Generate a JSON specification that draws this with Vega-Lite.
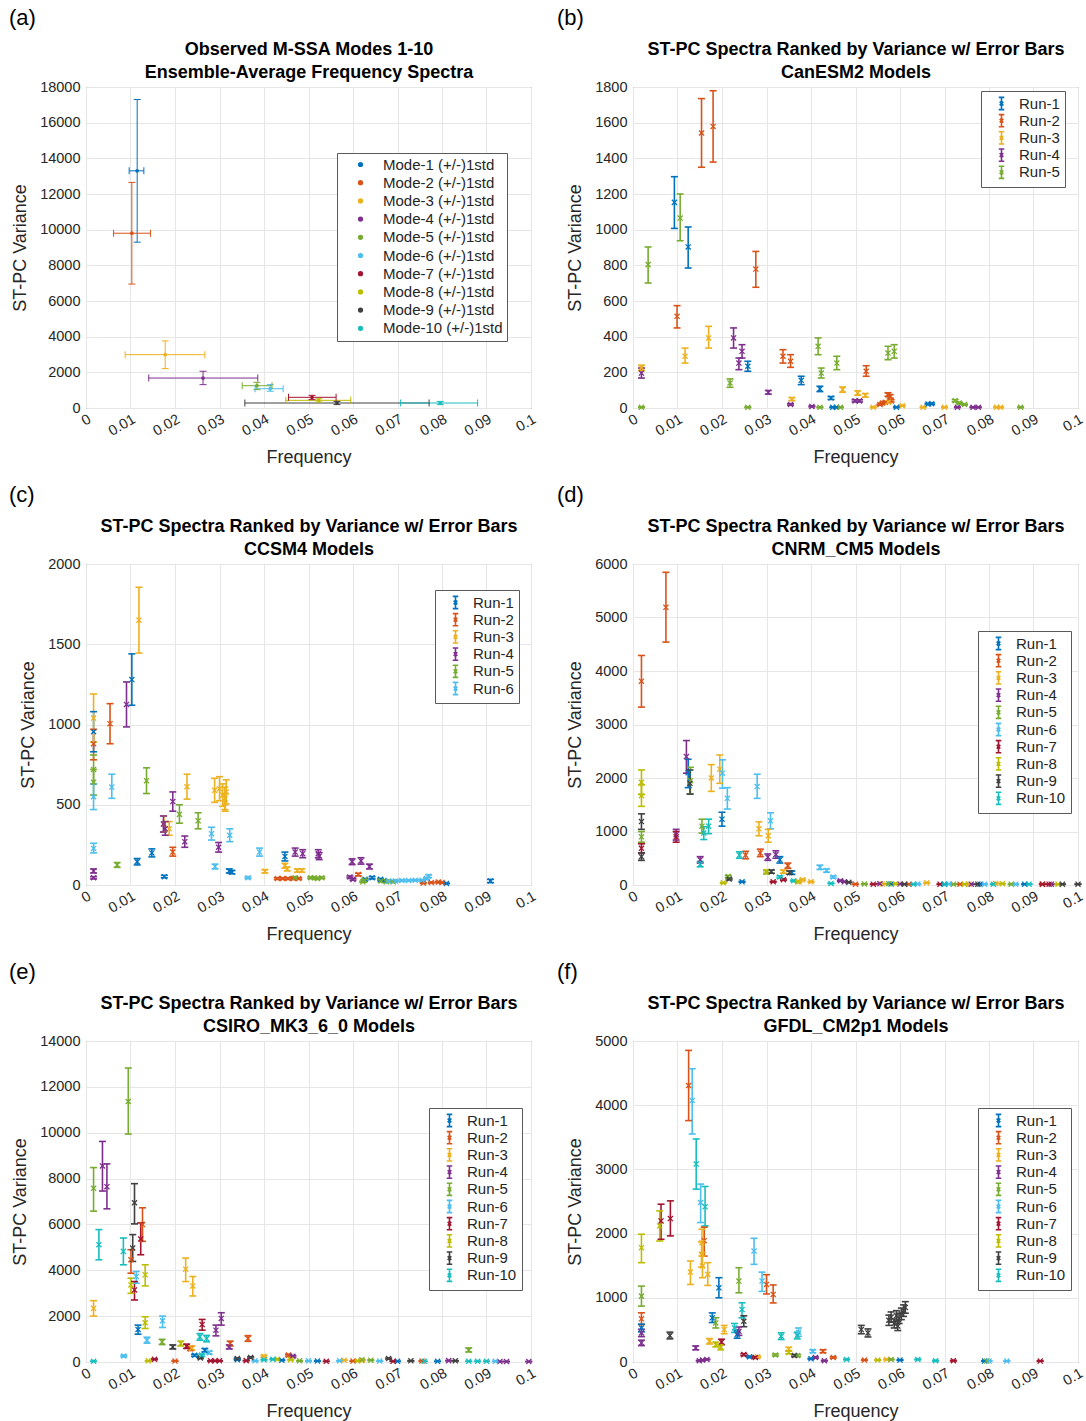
{
  "$schema": "https://vega.github.io/schema/vega-lite/v6.json",
  "padding": {"left": 8, "top": 6, "right": 0, "bottom": 0},
  "bounds": "flush",
  "columns": 2,
  "spacing": {"row": 156, "column": 102},
  "resolve": {"scale": {"color": "independent"}, "legend": {"color": "independent"}},
  "config": {
    "font": "Liberation Sans",
    "view": {"stroke": "#7a7a7a", "strokeWidth": 1},
    "axis": {"grid": true, "gridColor": "#e6e6e6", "domain": false, "ticks": false, "labelFontSize": 14.5, "labelColor": "#262626", "titleFontSize": 18, "titleFontWeight": "normal", "titleColor": "#262626", "labelOverlap": false, "labelFlush": false},
    "legend": {"orient": "none", "title": null, "fillColor": "white", "strokeColor": "#5a5a5a", "padding": 5, "labelFontSize": 15, "labelColor": "#262626", "rowPadding": -1.8, "symbolOffset": 8, "labelOffset": 10},
    "title": {"anchor": "start", "frame": "group", "fontSize": 22, "fontWeight": "normal", "color": "#000000", "offset": 10},
    "tick": {"opacity": 1},
    "point": {"opacity": 1}
  },
  "datasets": {
    "a": [
      {"r": "Mode-1 (+/-)1std", "f": 0.0115, "v": 13300, "lo": 9300, "hi": 17300, "flo": 0.0097, "fhi": 0.0130},
      {"r": "Mode-2 (+/-)1std", "f": 0.0103, "v": 9800, "lo": 6950, "hi": 12650, "flo": 0.0062, "fhi": 0.0145},
      {"r": "Mode-3 (+/-)1std", "f": 0.0178, "v": 2990, "lo": 2210, "hi": 3760, "flo": 0.0088, "fhi": 0.0267},
      {"r": "Mode-4 (+/-)1std", "f": 0.0263, "v": 1680, "lo": 1310, "hi": 2060, "flo": 0.0141, "fhi": 0.0386},
      {"r": "Mode-5 (+/-)1std", "f": 0.0384, "v": 1250, "lo": 1030, "hi": 1440, "flo": 0.0351, "fhi": 0.0418},
      {"r": "Mode-6 (+/-)1std", "f": 0.0414, "v": 1080, "lo": 940, "hi": 1310, "flo": 0.0380, "fhi": 0.0443},
      {"r": "Mode-7 (+/-)1std", "f": 0.0508, "v": 600, "lo": 470, "hi": 710, "flo": 0.0455, "fhi": 0.0562},
      {"r": "Mode-8 (+/-)1std", "f": 0.0523, "v": 430, "lo": 340, "hi": 520, "flo": 0.0449, "fhi": 0.0595},
      {"r": "Mode-9 (+/-)1std", "f": 0.0564, "v": 280, "lo": 190, "hi": 370, "flo": 0.0357, "fhi": 0.0771},
      {"r": "Mode-10 (+/-)1std", "f": 0.0796, "v": 280, "lo": 190, "hi": 370, "flo": 0.0707, "fhi": 0.0880}
    ],
    "b": [
      {"r": "Run-1", "f": 0.0093, "v": 1153, "lo": 1007, "hi": 1297},
      {"r": "Run-1", "f": 0.0124, "v": 903, "lo": 785, "hi": 1015},
      {"r": "Run-1", "f": 0.0258, "v": 234, "lo": 206, "hi": 262},
      {"r": "Run-1", "f": 0.0378, "v": 155, "lo": 131, "hi": 178},
      {"r": "Run-1", "f": 0.0420, "v": 107, "lo": 92, "hi": 122},
      {"r": "Run-1", "f": 0.0445, "v": 56, "lo": 48, "hi": 64},
      {"r": "Run-1", "f": 0.0449, "v": 4, "lo": 2, "hi": 6},
      {"r": "Run-1", "f": 0.0457, "v": 4, "lo": 2, "hi": 6},
      {"r": "Run-1", "f": 0.0592, "v": 4, "lo": 2, "hi": 6},
      {"r": "Run-1", "f": 0.0663, "v": 22, "lo": 18, "hi": 26},
      {"r": "Run-1", "f": 0.0671, "v": 24, "lo": 20, "hi": 28},
      {"r": "Run-2", "f": 0.0154, "v": 1542, "lo": 1350, "hi": 1735},
      {"r": "Run-2", "f": 0.0180, "v": 1579, "lo": 1379, "hi": 1779},
      {"r": "Run-2", "f": 0.0276, "v": 779, "lo": 677, "hi": 878},
      {"r": "Run-2", "f": 0.0099, "v": 514, "lo": 449, "hi": 574},
      {"r": "Run-2", "f": 0.0337, "v": 290, "lo": 252, "hi": 327},
      {"r": "Run-2", "f": 0.0354, "v": 262, "lo": 228, "hi": 299},
      {"r": "Run-2", "f": 0.0524, "v": 206, "lo": 178, "hi": 237},
      {"r": "Run-2", "f": 0.0573, "v": 75, "lo": 65, "hi": 85},
      {"r": "Run-2", "f": 0.0578, "v": 65, "lo": 56, "hi": 74},
      {"r": "Run-2", "f": 0.0555, "v": 19, "lo": 16, "hi": 22},
      {"r": "Run-2", "f": 0.0561, "v": 28, "lo": 24, "hi": 32},
      {"r": "Run-2", "f": 0.0567, "v": 32, "lo": 27, "hi": 37},
      {"r": "Run-2", "f": 0.0580, "v": 40, "lo": 34, "hi": 46},
      {"r": "Run-3", "f": 0.0019, "v": 225, "lo": 210, "hi": 240},
      {"r": "Run-3", "f": 0.0117, "v": 290, "lo": 252, "hi": 336},
      {"r": "Run-3", "f": 0.0170, "v": 393, "lo": 336, "hi": 458},
      {"r": "Run-3", "f": 0.0357, "v": 50, "lo": 42, "hi": 58},
      {"r": "Run-3", "f": 0.0471, "v": 103, "lo": 88, "hi": 118},
      {"r": "Run-3", "f": 0.0505, "v": 84, "lo": 72, "hi": 96},
      {"r": "Run-3", "f": 0.0522, "v": 71, "lo": 61, "hi": 81},
      {"r": "Run-3", "f": 0.0540, "v": 4, "lo": 2, "hi": 6},
      {"r": "Run-3", "f": 0.0574, "v": 32, "lo": 27, "hi": 37},
      {"r": "Run-3", "f": 0.0605, "v": 13, "lo": 10, "hi": 16},
      {"r": "Run-3", "f": 0.0652, "v": 4, "lo": 2, "hi": 6},
      {"r": "Run-3", "f": 0.0700, "v": 4, "lo": 2, "hi": 6},
      {"r": "Run-3", "f": 0.0817, "v": 4, "lo": 2, "hi": 6},
      {"r": "Run-3", "f": 0.0826, "v": 4, "lo": 2, "hi": 6},
      {"r": "Run-4", "f": 0.0019, "v": 196, "lo": 168, "hi": 224},
      {"r": "Run-4", "f": 0.0226, "v": 393, "lo": 336, "hi": 449},
      {"r": "Run-4", "f": 0.0245, "v": 318, "lo": 280, "hi": 355},
      {"r": "Run-4", "f": 0.0238, "v": 252, "lo": 215, "hi": 280},
      {"r": "Run-4", "f": 0.0304, "v": 88, "lo": 78, "hi": 98},
      {"r": "Run-4", "f": 0.0354, "v": 20, "lo": 16, "hi": 24},
      {"r": "Run-4", "f": 0.0402, "v": 9, "lo": 6, "hi": 12},
      {"r": "Run-4", "f": 0.0499, "v": 40, "lo": 34, "hi": 46},
      {"r": "Run-4", "f": 0.0509, "v": 40, "lo": 34, "hi": 46},
      {"r": "Run-4", "f": 0.0729, "v": 4, "lo": 2, "hi": 6},
      {"r": "Run-4", "f": 0.0764, "v": 4, "lo": 2, "hi": 6},
      {"r": "Run-4", "f": 0.0776, "v": 4, "lo": 2, "hi": 6},
      {"r": "Run-5", "f": 0.0034, "v": 804, "lo": 701, "hi": 903},
      {"r": "Run-5", "f": 0.0106, "v": 1065, "lo": 938, "hi": 1200},
      {"r": "Run-5", "f": 0.0218, "v": 140, "lo": 116, "hi": 163},
      {"r": "Run-5", "f": 0.0416, "v": 346, "lo": 299, "hi": 393},
      {"r": "Run-5", "f": 0.0423, "v": 196, "lo": 168, "hi": 224},
      {"r": "Run-5", "f": 0.0458, "v": 252, "lo": 215, "hi": 290},
      {"r": "Run-5", "f": 0.0573, "v": 308, "lo": 271, "hi": 346},
      {"r": "Run-5", "f": 0.0587, "v": 318, "lo": 280, "hi": 355},
      {"r": "Run-5", "f": 0.0019, "v": 4, "lo": 2, "hi": 6},
      {"r": "Run-5", "f": 0.0258, "v": 4, "lo": 2, "hi": 6},
      {"r": "Run-5", "f": 0.0420, "v": 4, "lo": 2, "hi": 6},
      {"r": "Run-5", "f": 0.0466, "v": 4, "lo": 2, "hi": 6},
      {"r": "Run-5", "f": 0.0724, "v": 41, "lo": 35, "hi": 47},
      {"r": "Run-5", "f": 0.0733, "v": 28, "lo": 24, "hi": 32},
      {"r": "Run-5", "f": 0.0745, "v": 19, "lo": 16, "hi": 22},
      {"r": "Run-5", "f": 0.0871, "v": 4, "lo": 2, "hi": 6}
    ],
    "c": [
      {"r": "Run-1", "f": 0.0103, "v": 1280, "lo": 1120, "hi": 1440},
      {"r": "Run-1", "f": 0.0017, "v": 955, "lo": 830, "hi": 1080},
      {"r": "Run-1", "f": 0.0115, "v": 145, "lo": 125, "hi": 165},
      {"r": "Run-1", "f": 0.0148, "v": 200, "lo": 175, "hi": 225},
      {"r": "Run-1", "f": 0.0176, "v": 52, "lo": 45, "hi": 60},
      {"r": "Run-1", "f": 0.0322, "v": 87, "lo": 75, "hi": 100},
      {"r": "Run-1", "f": 0.0328, "v": 80, "lo": 70, "hi": 90},
      {"r": "Run-1", "f": 0.0447, "v": 178, "lo": 150, "hi": 205},
      {"r": "Run-1", "f": 0.0627, "v": 35, "lo": 30, "hi": 40},
      {"r": "Run-1", "f": 0.0643, "v": 45, "lo": 38, "hi": 52},
      {"r": "Run-1", "f": 0.0662, "v": 35, "lo": 30, "hi": 40},
      {"r": "Run-1", "f": 0.0670, "v": 28, "lo": 24, "hi": 32},
      {"r": "Run-1", "f": 0.0810, "v": 10, "lo": 8, "hi": 12},
      {"r": "Run-1", "f": 0.0909, "v": 25, "lo": 15, "hi": 35},
      {"r": "Run-2", "f": 0.0017, "v": 880, "lo": 780, "hi": 970},
      {"r": "Run-2", "f": 0.0054, "v": 1005, "lo": 880, "hi": 1130},
      {"r": "Run-2", "f": 0.0195, "v": 205, "lo": 180, "hi": 235},
      {"r": "Run-2", "f": 0.0430, "v": 40, "lo": 35, "hi": 45},
      {"r": "Run-2", "f": 0.0442, "v": 40, "lo": 35, "hi": 45},
      {"r": "Run-2", "f": 0.0454, "v": 40, "lo": 35, "hi": 45},
      {"r": "Run-2", "f": 0.0466, "v": 40, "lo": 35, "hi": 45},
      {"r": "Run-2", "f": 0.0478, "v": 40, "lo": 35, "hi": 45},
      {"r": "Run-2", "f": 0.0612, "v": 65, "lo": 57, "hi": 73},
      {"r": "Run-2", "f": 0.0758, "v": 12, "lo": 9, "hi": 15},
      {"r": "Run-2", "f": 0.0776, "v": 15, "lo": 12, "hi": 18},
      {"r": "Run-2", "f": 0.0792, "v": 18, "lo": 14, "hi": 22},
      {"r": "Run-2", "f": 0.0800, "v": 15, "lo": 12, "hi": 18},
      {"r": "Run-3", "f": 0.0017, "v": 1040, "lo": 890, "hi": 1190},
      {"r": "Run-3", "f": 0.0119, "v": 1650, "lo": 1445, "hi": 1855},
      {"r": "Run-3", "f": 0.0175, "v": 380, "lo": 330, "hi": 430},
      {"r": "Run-3", "f": 0.0187, "v": 350, "lo": 310, "hi": 395},
      {"r": "Run-3", "f": 0.0227, "v": 612, "lo": 535, "hi": 690},
      {"r": "Run-3", "f": 0.0289, "v": 590, "lo": 515, "hi": 665},
      {"r": "Run-3", "f": 0.0300, "v": 600, "lo": 525, "hi": 675},
      {"r": "Run-3", "f": 0.0307, "v": 560, "lo": 490, "hi": 630},
      {"r": "Run-3", "f": 0.0312, "v": 540, "lo": 470, "hi": 610},
      {"r": "Run-3", "f": 0.0315, "v": 580, "lo": 505, "hi": 655},
      {"r": "Run-3", "f": 0.0313, "v": 510, "lo": 460, "hi": 570},
      {"r": "Run-3", "f": 0.0402, "v": 85, "lo": 75, "hi": 95},
      {"r": "Run-3", "f": 0.0447, "v": 120, "lo": 105, "hi": 135},
      {"r": "Run-3", "f": 0.0452, "v": 100, "lo": 88, "hi": 112},
      {"r": "Run-3", "f": 0.0475, "v": 90, "lo": 80, "hi": 100},
      {"r": "Run-3", "f": 0.0485, "v": 90, "lo": 80, "hi": 100},
      {"r": "Run-4", "f": 0.0091, "v": 1125, "lo": 985, "hi": 1265},
      {"r": "Run-4", "f": 0.0195, "v": 520, "lo": 460, "hi": 580},
      {"r": "Run-4", "f": 0.0174, "v": 380, "lo": 330, "hi": 430},
      {"r": "Run-4", "f": 0.0178, "v": 350, "lo": 310, "hi": 395},
      {"r": "Run-4", "f": 0.0222, "v": 270, "lo": 235, "hi": 305},
      {"r": "Run-4", "f": 0.0298, "v": 235, "lo": 205, "hi": 265},
      {"r": "Run-4", "f": 0.0017, "v": 87, "lo": 75, "hi": 100},
      {"r": "Run-4", "f": 0.0017, "v": 45, "lo": 38, "hi": 52},
      {"r": "Run-4", "f": 0.0470, "v": 205, "lo": 180, "hi": 230},
      {"r": "Run-4", "f": 0.0487, "v": 195, "lo": 170, "hi": 220},
      {"r": "Run-4", "f": 0.0522, "v": 195, "lo": 170, "hi": 220},
      {"r": "Run-4", "f": 0.0524, "v": 180, "lo": 158, "hi": 202},
      {"r": "Run-4", "f": 0.0593, "v": 50, "lo": 44, "hi": 56},
      {"r": "Run-4", "f": 0.0600, "v": 35, "lo": 30, "hi": 40},
      {"r": "Run-4", "f": 0.0598, "v": 145, "lo": 127, "hi": 163},
      {"r": "Run-4", "f": 0.0618, "v": 150, "lo": 130, "hi": 170},
      {"r": "Run-4", "f": 0.0637, "v": 115, "lo": 100, "hi": 130},
      {"r": "Run-5", "f": 0.0017, "v": 720, "lo": 630, "hi": 810},
      {"r": "Run-5", "f": 0.0017, "v": 640, "lo": 560, "hi": 720},
      {"r": "Run-5", "f": 0.0136, "v": 650, "lo": 570, "hi": 730},
      {"r": "Run-5", "f": 0.0070, "v": 125, "lo": 110, "hi": 140},
      {"r": "Run-5", "f": 0.0210, "v": 440, "lo": 385, "hi": 500},
      {"r": "Run-5", "f": 0.0252, "v": 400, "lo": 350, "hi": 450},
      {"r": "Run-5", "f": 0.0470, "v": 45, "lo": 40, "hi": 50},
      {"r": "Run-5", "f": 0.0505, "v": 45, "lo": 40, "hi": 50},
      {"r": "Run-5", "f": 0.0513, "v": 45, "lo": 40, "hi": 50},
      {"r": "Run-5", "f": 0.0520, "v": 40, "lo": 35, "hi": 45},
      {"r": "Run-5", "f": 0.0530, "v": 45, "lo": 40, "hi": 50},
      {"r": "Run-5", "f": 0.0622, "v": 20, "lo": 16, "hi": 24},
      {"r": "Run-5", "f": 0.0626, "v": 30, "lo": 25, "hi": 35},
      {"r": "Run-5", "f": 0.0663, "v": 25, "lo": 20, "hi": 30},
      {"r": "Run-5", "f": 0.0675, "v": 20, "lo": 16, "hi": 24},
      {"r": "Run-5", "f": 0.0690, "v": 20, "lo": 16, "hi": 24},
      {"r": "Run-6", "f": 0.0017, "v": 550, "lo": 470, "hi": 630},
      {"r": "Run-6", "f": 0.0058, "v": 610, "lo": 540, "hi": 690},
      {"r": "Run-6", "f": 0.0017, "v": 228, "lo": 200, "hi": 260},
      {"r": "Run-6", "f": 0.0282, "v": 320, "lo": 280, "hi": 360},
      {"r": "Run-6", "f": 0.0323, "v": 310, "lo": 270, "hi": 350},
      {"r": "Run-6", "f": 0.0290, "v": 115, "lo": 100, "hi": 130},
      {"r": "Run-6", "f": 0.0364, "v": 45, "lo": 40, "hi": 50},
      {"r": "Run-6", "f": 0.0390, "v": 205, "lo": 180, "hi": 230},
      {"r": "Run-6", "f": 0.0680, "v": 25, "lo": 21, "hi": 29},
      {"r": "Run-6", "f": 0.0695, "v": 25, "lo": 21, "hi": 29},
      {"r": "Run-6", "f": 0.0710, "v": 28, "lo": 24, "hi": 32},
      {"r": "Run-6", "f": 0.0725, "v": 28, "lo": 24, "hi": 32},
      {"r": "Run-6", "f": 0.0740, "v": 30, "lo": 26, "hi": 34},
      {"r": "Run-6", "f": 0.0755, "v": 30, "lo": 26, "hi": 34},
      {"r": "Run-6", "f": 0.0765, "v": 40, "lo": 34, "hi": 46},
      {"r": "Run-6", "f": 0.0770, "v": 55, "lo": 47, "hi": 63}
    ],
    "d": [
      {"r": "Run-1", "f": 0.0124, "v": 2100, "lo": 1820, "hi": 2350},
      {"r": "Run-1", "f": 0.0200, "v": 1230, "lo": 1100, "hi": 1360},
      {"r": "Run-1", "f": 0.0245, "v": 60, "lo": 52, "hi": 68},
      {"r": "Run-1", "f": 0.0330, "v": 470, "lo": 410, "hi": 530},
      {"r": "Run-1", "f": 0.0357, "v": 230, "lo": 200, "hi": 260},
      {"r": "Run-1", "f": 0.0580, "v": 20, "lo": 16, "hi": 24},
      {"r": "Run-1", "f": 0.0700, "v": 15, "lo": 12, "hi": 18},
      {"r": "Run-1", "f": 0.0780, "v": 15, "lo": 12, "hi": 18},
      {"r": "Run-1", "f": 0.0880, "v": 15, "lo": 12, "hi": 18},
      {"r": "Run-2", "f": 0.0019, "v": 3810, "lo": 3325, "hi": 4290},
      {"r": "Run-2", "f": 0.0074, "v": 5190, "lo": 4540, "hi": 5845},
      {"r": "Run-2", "f": 0.0253, "v": 560, "lo": 490, "hi": 630},
      {"r": "Run-2", "f": 0.0286, "v": 600, "lo": 530, "hi": 670},
      {"r": "Run-2", "f": 0.0348, "v": 360, "lo": 310, "hi": 410},
      {"r": "Run-2", "f": 0.0500, "v": 15, "lo": 12, "hi": 18},
      {"r": "Run-2", "f": 0.0620, "v": 15, "lo": 12, "hi": 18},
      {"r": "Run-2", "f": 0.0735, "v": 15, "lo": 12, "hi": 18},
      {"r": "Run-2", "f": 0.0920, "v": 15, "lo": 12, "hi": 18},
      {"r": "Run-3", "f": 0.0176, "v": 2000, "lo": 1750, "hi": 2250},
      {"r": "Run-3", "f": 0.0195, "v": 2165, "lo": 1900, "hi": 2430},
      {"r": "Run-3", "f": 0.0283, "v": 1050, "lo": 920, "hi": 1180},
      {"r": "Run-3", "f": 0.0304, "v": 920, "lo": 800, "hi": 1040},
      {"r": "Run-3", "f": 0.0338, "v": 250, "lo": 220, "hi": 280},
      {"r": "Run-3", "f": 0.0373, "v": 60, "lo": 52, "hi": 68},
      {"r": "Run-3", "f": 0.0381, "v": 100, "lo": 88, "hi": 112},
      {"r": "Run-3", "f": 0.0400, "v": 60, "lo": 52, "hi": 68},
      {"r": "Run-3", "f": 0.0560, "v": 20, "lo": 16, "hi": 24},
      {"r": "Run-3", "f": 0.0660, "v": 40, "lo": 34, "hi": 46},
      {"r": "Run-3", "f": 0.0755, "v": 15, "lo": 12, "hi": 18},
      {"r": "Run-3", "f": 0.0815, "v": 30, "lo": 25, "hi": 35},
      {"r": "Run-4", "f": 0.0120, "v": 2400, "lo": 2090, "hi": 2700},
      {"r": "Run-4", "f": 0.0097, "v": 940, "lo": 840, "hi": 1040},
      {"r": "Run-4", "f": 0.0151, "v": 470, "lo": 410, "hi": 530},
      {"r": "Run-4", "f": 0.0303, "v": 520, "lo": 460, "hi": 580},
      {"r": "Run-4", "f": 0.0321, "v": 570, "lo": 500, "hi": 640},
      {"r": "Run-4", "f": 0.0466, "v": 80, "lo": 70, "hi": 90},
      {"r": "Run-4", "f": 0.0475, "v": 60, "lo": 52, "hi": 68},
      {"r": "Run-4", "f": 0.0555, "v": 25, "lo": 20, "hi": 30},
      {"r": "Run-4", "f": 0.0600, "v": 20, "lo": 16, "hi": 24},
      {"r": "Run-4", "f": 0.0760, "v": 15, "lo": 12, "hi": 18},
      {"r": "Run-4", "f": 0.0940, "v": 15, "lo": 12, "hi": 18},
      {"r": "Run-5", "f": 0.0019, "v": 900, "lo": 800, "hi": 1000},
      {"r": "Run-5", "f": 0.0129, "v": 1950, "lo": 1700, "hi": 2200},
      {"r": "Run-5", "f": 0.0155, "v": 1100, "lo": 970, "hi": 1230},
      {"r": "Run-5", "f": 0.0214, "v": 160, "lo": 140, "hi": 180},
      {"r": "Run-5", "f": 0.0300, "v": 240, "lo": 210, "hi": 270},
      {"r": "Run-5", "f": 0.0520, "v": 20, "lo": 16, "hi": 24},
      {"r": "Run-5", "f": 0.0575, "v": 25, "lo": 20, "hi": 30},
      {"r": "Run-5", "f": 0.0720, "v": 15, "lo": 12, "hi": 18},
      {"r": "Run-5", "f": 0.0850, "v": 15, "lo": 12, "hi": 18},
      {"r": "Run-6", "f": 0.0201, "v": 2090, "lo": 1810, "hi": 2340},
      {"r": "Run-6", "f": 0.0212, "v": 1620, "lo": 1420, "hi": 1820},
      {"r": "Run-6", "f": 0.0279, "v": 1840, "lo": 1620, "hi": 2070},
      {"r": "Run-6", "f": 0.0309, "v": 1200, "lo": 1050, "hi": 1350},
      {"r": "Run-6", "f": 0.0420, "v": 330, "lo": 290, "hi": 370},
      {"r": "Run-6", "f": 0.0435, "v": 270, "lo": 240, "hi": 300},
      {"r": "Run-6", "f": 0.0450, "v": 150, "lo": 130, "hi": 170},
      {"r": "Run-6", "f": 0.0640, "v": 20, "lo": 16, "hi": 24},
      {"r": "Run-6", "f": 0.0710, "v": 20, "lo": 16, "hi": 24},
      {"r": "Run-6", "f": 0.0790, "v": 15, "lo": 12, "hi": 18},
      {"r": "Run-6", "f": 0.0860, "v": 15, "lo": 12, "hi": 18},
      {"r": "Run-7", "f": 0.0019, "v": 686, "lo": 600, "hi": 770},
      {"r": "Run-7", "f": 0.0097, "v": 900, "lo": 800, "hi": 1000},
      {"r": "Run-7", "f": 0.0315, "v": 60, "lo": 52, "hi": 68},
      {"r": "Run-7", "f": 0.0338, "v": 100, "lo": 88, "hi": 112},
      {"r": "Run-7", "f": 0.0540, "v": 15, "lo": 12, "hi": 18},
      {"r": "Run-7", "f": 0.0690, "v": 15, "lo": 12, "hi": 18},
      {"r": "Run-7", "f": 0.0920, "v": 15, "lo": 12, "hi": 18},
      {"r": "Run-7", "f": 0.0935, "v": 15, "lo": 12, "hi": 18},
      {"r": "Run-8", "f": 0.0019, "v": 1920, "lo": 1690, "hi": 2150},
      {"r": "Run-8", "f": 0.0019, "v": 1670, "lo": 1470, "hi": 1870},
      {"r": "Run-8", "f": 0.0203, "v": 40, "lo": 34, "hi": 46},
      {"r": "Run-8", "f": 0.0300, "v": 250, "lo": 220, "hi": 280},
      {"r": "Run-8", "f": 0.0370, "v": 60, "lo": 52, "hi": 68},
      {"r": "Run-8", "f": 0.0590, "v": 25, "lo": 20, "hi": 30},
      {"r": "Run-8", "f": 0.0745, "v": 15, "lo": 12, "hi": 18},
      {"r": "Run-8", "f": 0.0830, "v": 25, "lo": 20, "hi": 30},
      {"r": "Run-8", "f": 0.0955, "v": 15, "lo": 12, "hi": 18},
      {"r": "Run-9", "f": 0.0019, "v": 1185, "lo": 1040, "hi": 1330},
      {"r": "Run-9", "f": 0.0019, "v": 530, "lo": 460, "hi": 600},
      {"r": "Run-9", "f": 0.0128, "v": 1900, "lo": 1700, "hi": 2150},
      {"r": "Run-9", "f": 0.0216, "v": 110, "lo": 95, "hi": 125},
      {"r": "Run-9", "f": 0.0311, "v": 250, "lo": 220, "hi": 280},
      {"r": "Run-9", "f": 0.0352, "v": 230, "lo": 200, "hi": 260},
      {"r": "Run-9", "f": 0.0485, "v": 50, "lo": 44, "hi": 56},
      {"r": "Run-9", "f": 0.0610, "v": 15, "lo": 12, "hi": 18},
      {"r": "Run-9", "f": 0.0775, "v": 15, "lo": 12, "hi": 18},
      {"r": "Run-9", "f": 0.0965, "v": 15, "lo": 12, "hi": 18},
      {"r": "Run-9", "f": 0.1000, "v": 15, "lo": 12, "hi": 18},
      {"r": "Run-10", "f": 0.0151, "v": 387, "lo": 340, "hi": 440},
      {"r": "Run-10", "f": 0.0159, "v": 970, "lo": 850, "hi": 1090},
      {"r": "Run-10", "f": 0.0170, "v": 1100, "lo": 960, "hi": 1230},
      {"r": "Run-10", "f": 0.0239, "v": 560, "lo": 500, "hi": 620},
      {"r": "Run-10", "f": 0.0330, "v": 150, "lo": 130, "hi": 170},
      {"r": "Run-10", "f": 0.0361, "v": 80, "lo": 70, "hi": 90},
      {"r": "Run-10", "f": 0.0445, "v": 30, "lo": 25, "hi": 35},
      {"r": "Run-10", "f": 0.0630, "v": 15, "lo": 12, "hi": 18},
      {"r": "Run-10", "f": 0.0700, "v": 15, "lo": 12, "hi": 18},
      {"r": "Run-10", "f": 0.0810, "v": 15, "lo": 12, "hi": 18},
      {"r": "Run-10", "f": 0.0890, "v": 15, "lo": 12, "hi": 18}
    ],
    "e": [
      {"r": "Run-1", "f": 0.0117, "v": 1418, "lo": 1213, "hi": 1608},
      {"r": "Run-1", "f": 0.0244, "v": 292, "lo": 250, "hi": 335},
      {"r": "Run-1", "f": 0.0267, "v": 512, "lo": 440, "hi": 585},
      {"r": "Run-1", "f": 0.0340, "v": 100, "lo": 85, "hi": 115},
      {"r": "Run-1", "f": 0.0440, "v": 80, "lo": 68, "hi": 92},
      {"r": "Run-1", "f": 0.0520, "v": 40, "lo": 34, "hi": 46},
      {"r": "Run-1", "f": 0.0700, "v": 30, "lo": 25, "hi": 35},
      {"r": "Run-1", "f": 0.0790, "v": 30, "lo": 25, "hi": 35},
      {"r": "Run-2", "f": 0.0127, "v": 5994, "lo": 5263, "hi": 6725},
      {"r": "Run-2", "f": 0.0101, "v": 4459, "lo": 3874, "hi": 4898},
      {"r": "Run-2", "f": 0.0364, "v": 1023, "lo": 900, "hi": 1150},
      {"r": "Run-2", "f": 0.0324, "v": 804, "lo": 700, "hi": 910},
      {"r": "Run-2", "f": 0.0235, "v": 585, "lo": 500, "hi": 670},
      {"r": "Run-2", "f": 0.0200, "v": 40, "lo": 34, "hi": 46},
      {"r": "Run-2", "f": 0.0455, "v": 300, "lo": 260, "hi": 340},
      {"r": "Run-2", "f": 0.0600, "v": 40, "lo": 34, "hi": 46},
      {"r": "Run-2", "f": 0.0755, "v": 40, "lo": 34, "hi": 46},
      {"r": "Run-3", "f": 0.0017, "v": 2339, "lo": 2003, "hi": 2675},
      {"r": "Run-3", "f": 0.0224, "v": 4050, "lo": 3509, "hi": 4532},
      {"r": "Run-3", "f": 0.0240, "v": 3319, "lo": 2880, "hi": 3728},
      {"r": "Run-3", "f": 0.0238, "v": 614, "lo": 530, "hi": 700},
      {"r": "Run-3", "f": 0.0400, "v": 250, "lo": 215, "hi": 285},
      {"r": "Run-3", "f": 0.0580, "v": 80, "lo": 68, "hi": 92},
      {"r": "Run-3", "f": 0.0620, "v": 60, "lo": 50, "hi": 70},
      {"r": "Run-4", "f": 0.0037, "v": 8553, "lo": 7456, "hi": 9620},
      {"r": "Run-4", "f": 0.0047, "v": 7646, "lo": 6681, "hi": 8640},
      {"r": "Run-4", "f": 0.0304, "v": 1900, "lo": 1608, "hi": 2149},
      {"r": "Run-4", "f": 0.0292, "v": 1389, "lo": 1140, "hi": 1608},
      {"r": "Run-4", "f": 0.0322, "v": 658, "lo": 570, "hi": 745},
      {"r": "Run-4", "f": 0.0465, "v": 250, "lo": 215, "hi": 285},
      {"r": "Run-4", "f": 0.0815, "v": 60, "lo": 50, "hi": 70},
      {"r": "Run-4", "f": 0.0930, "v": 20, "lo": 15, "hi": 25},
      {"r": "Run-4", "f": 0.0945, "v": 20, "lo": 15, "hi": 25},
      {"r": "Run-4", "f": 0.0995, "v": 20, "lo": 15, "hi": 25},
      {"r": "Run-5", "f": 0.0017, "v": 7573, "lo": 6580, "hi": 8480},
      {"r": "Run-5", "f": 0.0095, "v": 11360, "lo": 9942, "hi": 12822},
      {"r": "Run-5", "f": 0.0171, "v": 877, "lo": 760, "hi": 990},
      {"r": "Run-5", "f": 0.0860, "v": 512, "lo": 439, "hi": 614},
      {"r": "Run-5", "f": 0.0620, "v": 100, "lo": 85, "hi": 115},
      {"r": "Run-5", "f": 0.0640, "v": 80, "lo": 68, "hi": 92},
      {"r": "Run-5", "f": 0.0480, "v": 50, "lo": 42, "hi": 58},
      {"r": "Run-6", "f": 0.0113, "v": 3728, "lo": 3436, "hi": 3947},
      {"r": "Run-6", "f": 0.0172, "v": 1798, "lo": 1506, "hi": 2003},
      {"r": "Run-6", "f": 0.0137, "v": 950, "lo": 820, "hi": 1080},
      {"r": "Run-6", "f": 0.0085, "v": 263, "lo": 225, "hi": 300},
      {"r": "Run-6", "f": 0.0277, "v": 409, "lo": 350, "hi": 470},
      {"r": "Run-6", "f": 0.0380, "v": 50, "lo": 42, "hi": 58},
      {"r": "Run-6", "f": 0.0500, "v": 50, "lo": 42, "hi": 58},
      {"r": "Run-6", "f": 0.0570, "v": 50, "lo": 42, "hi": 58},
      {"r": "Run-6", "f": 0.0660, "v": 40, "lo": 34, "hi": 46},
      {"r": "Run-6", "f": 0.0920, "v": 30, "lo": 25, "hi": 35},
      {"r": "Run-7", "f": 0.0123, "v": 5365, "lo": 4678, "hi": 6067},
      {"r": "Run-7", "f": 0.0109, "v": 3143, "lo": 2705, "hi": 3509},
      {"r": "Run-7", "f": 0.0261, "v": 1637, "lo": 1389, "hi": 1857},
      {"r": "Run-7", "f": 0.0226, "v": 687, "lo": 590, "hi": 780},
      {"r": "Run-7", "f": 0.0154, "v": 117, "lo": 100, "hi": 135},
      {"r": "Run-7", "f": 0.0280, "v": 50, "lo": 42, "hi": 58},
      {"r": "Run-7", "f": 0.0290, "v": 50, "lo": 42, "hi": 58},
      {"r": "Run-7", "f": 0.0300, "v": 50, "lo": 42, "hi": 58},
      {"r": "Run-7", "f": 0.0360, "v": 60, "lo": 50, "hi": 70},
      {"r": "Run-7", "f": 0.0540, "v": 30, "lo": 25, "hi": 35},
      {"r": "Run-7", "f": 0.0690, "v": 30, "lo": 25, "hi": 35},
      {"r": "Run-8", "f": 0.0133, "v": 3801, "lo": 3319, "hi": 4240},
      {"r": "Run-8", "f": 0.0101, "v": 3363, "lo": 2997, "hi": 3655},
      {"r": "Run-8", "f": 0.0133, "v": 1711, "lo": 1462, "hi": 1974},
      {"r": "Run-8", "f": 0.0213, "v": 804, "lo": 700, "hi": 910},
      {"r": "Run-8", "f": 0.0140, "v": 50, "lo": 42, "hi": 58},
      {"r": "Run-8", "f": 0.0430, "v": 120, "lo": 100, "hi": 140},
      {"r": "Run-8", "f": 0.0460, "v": 100, "lo": 85, "hi": 115},
      {"r": "Run-8", "f": 0.0610, "v": 50, "lo": 42, "hi": 58},
      {"r": "Run-9", "f": 0.0109, "v": 6944, "lo": 6023, "hi": 7778},
      {"r": "Run-9", "f": 0.0105, "v": 4971, "lo": 4386, "hi": 5556},
      {"r": "Run-9", "f": 0.0195, "v": 658, "lo": 570, "hi": 745},
      {"r": "Run-9", "f": 0.0257, "v": 175, "lo": 150, "hi": 200},
      {"r": "Run-9", "f": 0.0340, "v": 150, "lo": 128, "hi": 172},
      {"r": "Run-9", "f": 0.0370, "v": 200, "lo": 170, "hi": 230},
      {"r": "Run-9", "f": 0.0680, "v": 150, "lo": 128, "hi": 172},
      {"r": "Run-9", "f": 0.0730, "v": 50, "lo": 42, "hi": 58},
      {"r": "Run-9", "f": 0.0830, "v": 50, "lo": 42, "hi": 58},
      {"r": "Run-10", "f": 0.0017, "v": 30, "lo": 25, "hi": 35},
      {"r": "Run-10", "f": 0.0029, "v": 5117, "lo": 4459, "hi": 5775},
      {"r": "Run-10", "f": 0.0084, "v": 4825, "lo": 4240, "hi": 5409},
      {"r": "Run-10", "f": 0.0256, "v": 1096, "lo": 950, "hi": 1240},
      {"r": "Run-10", "f": 0.0271, "v": 1023, "lo": 880, "hi": 1160},
      {"r": "Run-10", "f": 0.0260, "v": 300, "lo": 255, "hi": 345},
      {"r": "Run-10", "f": 0.0400, "v": 100, "lo": 85, "hi": 115},
      {"r": "Run-10", "f": 0.0420, "v": 120, "lo": 100, "hi": 140},
      {"r": "Run-10", "f": 0.0760, "v": 30, "lo": 25, "hi": 35},
      {"r": "Run-10", "f": 0.0860, "v": 30, "lo": 25, "hi": 35},
      {"r": "Run-10", "f": 0.0880, "v": 30, "lo": 25, "hi": 35},
      {"r": "Run-10", "f": 0.0900, "v": 30, "lo": 25, "hi": 35}
    ],
    "f": [
      {"r": "Run-1", "f": 0.0019, "v": 531, "lo": 470, "hi": 590},
      {"r": "Run-1", "f": 0.0193, "v": 1156, "lo": 1000, "hi": 1313},
      {"r": "Run-1", "f": 0.0178, "v": 688, "lo": 615, "hi": 765},
      {"r": "Run-1", "f": 0.0234, "v": 427, "lo": 370, "hi": 485},
      {"r": "Run-1", "f": 0.0262, "v": 80, "lo": 68, "hi": 92},
      {"r": "Run-1", "f": 0.0400, "v": 50, "lo": 42, "hi": 58},
      {"r": "Run-1", "f": 0.0600, "v": 30, "lo": 25, "hi": 35},
      {"r": "Run-1", "f": 0.0790, "v": 15, "lo": 12, "hi": 18},
      {"r": "Run-2", "f": 0.0125, "v": 4307, "lo": 3760, "hi": 4854},
      {"r": "Run-2", "f": 0.0160, "v": 1890, "lo": 1650, "hi": 2100},
      {"r": "Run-2", "f": 0.0019, "v": 672, "lo": 583, "hi": 766},
      {"r": "Run-2", "f": 0.0300, "v": 1208, "lo": 1060, "hi": 1360},
      {"r": "Run-2", "f": 0.0315, "v": 1052, "lo": 920, "hi": 1200},
      {"r": "Run-2", "f": 0.0427, "v": 167, "lo": 145, "hi": 190},
      {"r": "Run-2", "f": 0.0450, "v": 70, "lo": 60, "hi": 80},
      {"r": "Run-2", "f": 0.0520, "v": 30, "lo": 25, "hi": 35},
      {"r": "Run-3", "f": 0.0129, "v": 1401, "lo": 1208, "hi": 1573},
      {"r": "Run-3", "f": 0.0156, "v": 1495, "lo": 1313, "hi": 1703},
      {"r": "Run-3", "f": 0.0168, "v": 1365, "lo": 1193, "hi": 1547},
      {"r": "Run-3", "f": 0.0155, "v": 1859, "lo": 1651, "hi": 2068},
      {"r": "Run-3", "f": 0.0154, "v": 1677, "lo": 1480, "hi": 1870},
      {"r": "Run-3", "f": 0.0205, "v": 505, "lo": 440, "hi": 570},
      {"r": "Run-3", "f": 0.0172, "v": 323, "lo": 280, "hi": 365},
      {"r": "Run-3", "f": 0.0280, "v": 80, "lo": 68, "hi": 92},
      {"r": "Run-3", "f": 0.0350, "v": 200, "lo": 170, "hi": 230},
      {"r": "Run-3", "f": 0.0570, "v": 40, "lo": 34, "hi": 46},
      {"r": "Run-4", "f": 0.0019, "v": 453, "lo": 395, "hi": 510},
      {"r": "Run-4", "f": 0.0019, "v": 297, "lo": 255, "hi": 340},
      {"r": "Run-4", "f": 0.0141, "v": 219, "lo": 190, "hi": 250},
      {"r": "Run-4", "f": 0.0149, "v": 20, "lo": 15, "hi": 25},
      {"r": "Run-4", "f": 0.0156, "v": 30, "lo": 25, "hi": 35},
      {"r": "Run-4", "f": 0.0166, "v": 40, "lo": 34, "hi": 46},
      {"r": "Run-4", "f": 0.0238, "v": 479, "lo": 415, "hi": 545},
      {"r": "Run-4", "f": 0.0410, "v": 70, "lo": 60, "hi": 80},
      {"r": "Run-4", "f": 0.0430, "v": 20, "lo": 15, "hi": 25},
      {"r": "Run-5", "f": 0.0019, "v": 1026, "lo": 870, "hi": 1182},
      {"r": "Run-5", "f": 0.0238, "v": 1260, "lo": 1078, "hi": 1469},
      {"r": "Run-5", "f": 0.0186, "v": 609, "lo": 530, "hi": 690},
      {"r": "Run-5", "f": 0.0320, "v": 110, "lo": 95, "hi": 125},
      {"r": "Run-5", "f": 0.0370, "v": 100, "lo": 85, "hi": 115},
      {"r": "Run-5", "f": 0.0580, "v": 40, "lo": 34, "hi": 46},
      {"r": "Run-5", "f": 0.0795, "v": 15, "lo": 12, "hi": 18},
      {"r": "Run-6", "f": 0.0133, "v": 4073, "lo": 3552, "hi": 4568},
      {"r": "Run-6", "f": 0.0152, "v": 2484, "lo": 2172, "hi": 2771},
      {"r": "Run-6", "f": 0.0272, "v": 1729, "lo": 1521, "hi": 1927},
      {"r": "Run-6", "f": 0.0290, "v": 1260, "lo": 1100, "hi": 1400},
      {"r": "Run-6", "f": 0.0372, "v": 463, "lo": 400, "hi": 530},
      {"r": "Run-6", "f": 0.0404, "v": 167, "lo": 145, "hi": 190},
      {"r": "Run-6", "f": 0.0800, "v": 15, "lo": 12, "hi": 18},
      {"r": "Run-6", "f": 0.0840, "v": 15, "lo": 12, "hi": 18},
      {"r": "Run-7", "f": 0.0084, "v": 2234, "lo": 1964, "hi": 2510},
      {"r": "Run-7", "f": 0.0063, "v": 2198, "lo": 1911, "hi": 2458},
      {"r": "Run-7", "f": 0.0199, "v": 312, "lo": 270, "hi": 355},
      {"r": "Run-7", "f": 0.0249, "v": 115, "lo": 100, "hi": 130},
      {"r": "Run-7", "f": 0.0275, "v": 70, "lo": 60, "hi": 80},
      {"r": "Run-7", "f": 0.0720, "v": 20, "lo": 15, "hi": 25},
      {"r": "Run-7", "f": 0.0915, "v": 15, "lo": 12, "hi": 18},
      {"r": "Run-8", "f": 0.0019, "v": 1781, "lo": 1547, "hi": 1990},
      {"r": "Run-8", "f": 0.0060, "v": 2120, "lo": 1885, "hi": 2354},
      {"r": "Run-8", "f": 0.0186, "v": 271, "lo": 235, "hi": 310},
      {"r": "Run-8", "f": 0.0197, "v": 234, "lo": 190, "hi": 270},
      {"r": "Run-8", "f": 0.0350, "v": 150, "lo": 128, "hi": 172},
      {"r": "Run-8", "f": 0.0550, "v": 30, "lo": 25, "hi": 35},
      {"r": "Run-9", "f": 0.0083, "v": 411, "lo": 360, "hi": 465},
      {"r": "Run-9", "f": 0.0249, "v": 635, "lo": 550, "hi": 720},
      {"r": "Run-9", "f": 0.0363, "v": 100, "lo": 85, "hi": 115},
      {"r": "Run-9", "f": 0.0513, "v": 505, "lo": 440, "hi": 570},
      {"r": "Run-9", "f": 0.0528, "v": 453, "lo": 390, "hi": 515},
      {"r": "Run-9", "f": 0.0575, "v": 650, "lo": 570, "hi": 730},
      {"r": "Run-9", "f": 0.0580, "v": 700, "lo": 620, "hi": 780},
      {"r": "Run-9", "f": 0.0587, "v": 600, "lo": 530, "hi": 670},
      {"r": "Run-9", "f": 0.0592, "v": 720, "lo": 640, "hi": 800},
      {"r": "Run-9", "f": 0.0598, "v": 680, "lo": 600, "hi": 760},
      {"r": "Run-9", "f": 0.0603, "v": 750, "lo": 660, "hi": 840},
      {"r": "Run-9", "f": 0.0608, "v": 800, "lo": 710, "hi": 890},
      {"r": "Run-9", "f": 0.0612, "v": 850, "lo": 760, "hi": 940},
      {"r": "Run-9", "f": 0.0595, "v": 560, "lo": 490, "hi": 630},
      {"r": "Run-10", "f": 0.0142, "v": 3083, "lo": 2693, "hi": 3474},
      {"r": "Run-10", "f": 0.0162, "v": 2417, "lo": 2120, "hi": 2734},
      {"r": "Run-10", "f": 0.0228, "v": 531, "lo": 460, "hi": 600},
      {"r": "Run-10", "f": 0.0245, "v": 818, "lo": 688, "hi": 922},
      {"r": "Run-10", "f": 0.0333, "v": 401, "lo": 350, "hi": 455},
      {"r": "Run-10", "f": 0.0369, "v": 411, "lo": 360, "hi": 465},
      {"r": "Run-10", "f": 0.0480, "v": 40, "lo": 34, "hi": 46},
      {"r": "Run-10", "f": 0.0640, "v": 40, "lo": 34, "hi": 46},
      {"r": "Run-10", "f": 0.0680, "v": 20, "lo": 15, "hi": 25}
    ]
  },
  "concat": [
    {
      "width": 445, "height": 321,
      "data": {"name": "a"},
      "title": {"text": "(a)", "dx": -77},
      "resolve": {"axis": {"x": "independent"}},
      "encoding": {
        "color": {"field": "r", "type": "nominal",
          "scale": {"domain": ["Mode-1 (+/-)1std", "Mode-2 (+/-)1std", "Mode-3 (+/-)1std", "Mode-4 (+/-)1std", "Mode-5 (+/-)1std", "Mode-6 (+/-)1std", "Mode-7 (+/-)1std", "Mode-8 (+/-)1std", "Mode-9 (+/-)1std", "Mode-10 (+/-)1std"],
            "range": ["#0072BD", "#D95319", "#EDB120", "#7E2F8E", "#77AC30", "#4DBEEE", "#A2142F", "#BDBD00", "#404040", "#17BEBE"]},
          "legend": {"legendX": 251, "legendY": 66, "symbolType": "circle", "symbolSize": 14, "padding": 4, "symbolOffset": 12, "labelOffset": 15, "rowPadding": 2.2}}
      },
      "layer": [
        {"mark": {"type": "rule", "strokeWidth": 1}, "encoding": {
          "x": {"field": "f", "type": "quantitative", "scale": {"domain": [0, 0.1], "nice": false}, "axis": {"title": "Frequency", "orient": "bottom", "values": [0, 0.01, 0.02, 0.03, 0.04, 0.05, 0.06, 0.07, 0.08, 0.09, 0.1], "format": "~g", "labelAngle": -30, "labelAlign": "right", "labelBaseline": "top", "labelPadding": 4, "titlePadding": 11, "labelOverlap": false}},
          "y": {"field": "lo", "type": "quantitative", "scale": {"domain": [0, 18000], "nice": false}, "axis": {"title": "ST-PC Variance", "orient": "left", "values": [0, 2000, 4000, 6000, 8000, 10000, 12000, 14000, 16000, 18000], "format": "d", "labelPadding": 6, "titlePadding": 10, "labelOverlap": false}},
          "y2": {"field": "hi"}}},
        {"mark": {"type": "rule", "strokeWidth": 1}, "encoding": {
          "x": {"field": "flo", "type": "quantitative", "scale": {"domain": [0, 0.1], "nice": false}, "axis": null},
          "x2": {"field": "fhi"},
          "y": {"field": "v", "type": "quantitative", "scale": {"domain": [0, 18000], "nice": false}, "axis": {"title": "ST-PC Variance", "orient": "left", "values": [0, 2000, 4000, 6000, 8000, 10000, 12000, 14000, 16000, 18000], "format": "d", "labelPadding": 6, "titlePadding": 10, "labelOverlap": false}}}},
        {"mark": {"type": "tick", "orient": "horizontal", "size": 7, "thickness": 1}, "encoding": {
          "x": {"field": "f", "type": "quantitative", "scale": {"domain": [0, 0.1], "nice": false}, "axis": null},
          "y": {"field": "lo", "type": "quantitative", "scale": {"domain": [0, 18000], "nice": false}, "axis": {"title": "ST-PC Variance", "orient": "left", "values": [0, 2000, 4000, 6000, 8000, 10000, 12000, 14000, 16000, 18000], "format": "d", "labelPadding": 6, "titlePadding": 10, "labelOverlap": false}}}},
        {"mark": {"type": "tick", "orient": "horizontal", "size": 7, "thickness": 1}, "encoding": {
          "x": {"field": "f", "type": "quantitative", "scale": {"domain": [0, 0.1], "nice": false}, "axis": null},
          "y": {"field": "hi", "type": "quantitative", "scale": {"domain": [0, 18000], "nice": false}, "axis": {"title": "ST-PC Variance", "orient": "left", "values": [0, 2000, 4000, 6000, 8000, 10000, 12000, 14000, 16000, 18000], "format": "d", "labelPadding": 6, "titlePadding": 10, "labelOverlap": false}}}},
        {"mark": {"type": "tick", "orient": "vertical", "size": 7, "thickness": 1}, "encoding": {
          "x": {"field": "flo", "type": "quantitative", "scale": {"domain": [0, 0.1], "nice": false}, "axis": null},
          "y": {"field": "v", "type": "quantitative", "scale": {"domain": [0, 18000], "nice": false}, "axis": {"title": "ST-PC Variance", "orient": "left", "values": [0, 2000, 4000, 6000, 8000, 10000, 12000, 14000, 16000, 18000], "format": "d", "labelPadding": 6, "titlePadding": 10, "labelOverlap": false}}}},
        {"mark": {"type": "tick", "orient": "vertical", "size": 7, "thickness": 1}, "encoding": {
          "x": {"field": "fhi", "type": "quantitative", "scale": {"domain": [0, 0.1], "nice": false}, "axis": null},
          "y": {"field": "v", "type": "quantitative", "scale": {"domain": [0, 18000], "nice": false}, "axis": {"title": "ST-PC Variance", "orient": "left", "values": [0, 2000, 4000, 6000, 8000, 10000, 12000, 14000, 16000, 18000], "format": "d", "labelPadding": 6, "titlePadding": 10, "labelOverlap": false}}}},
        {"mark": {"type": "point", "shape": "circle", "filled": true, "size": 14}, "encoding": {
          "x": {"field": "f", "type": "quantitative", "scale": {"domain": [0, 0.1], "nice": false}, "axis": {"orient": "top", "labels": false, "grid": false, "ticks": false, "domain": false, "title": ["Observed M-SSA Modes 1-10", "Ensemble-Average Frequency Spectra"], "titleFontSize": 18, "titleFontWeight": "bold", "titleColor": "#000000", "titlePadding": 6, "titleLineHeight": 23}},
          "y": {"field": "v", "type": "quantitative", "scale": {"domain": [0, 18000], "nice": false}, "axis": {"title": "ST-PC Variance", "orient": "left", "values": [0, 2000, 4000, 6000, 8000, 10000, 12000, 14000, 16000, 18000], "format": "d", "labelPadding": 6, "titlePadding": 10, "labelOverlap": false}}}}
      ]
    },
    {
      "width": 445, "height": 321,
      "data": {"name": "b"},
      "title": {"text": "(b)", "dx": -76},
      "resolve": {"axis": {"x": "independent"}},
      "encoding": {
        "color": {"field": "r", "type": "nominal",
          "scale": {"domain": ["Run-1", "Run-2", "Run-3", "Run-4", "Run-5"], "range": ["#0072BD", "#D95319", "#EDB120", "#7E2F8E", "#77AC30"]},
          "legend": {"legendX": 348, "legendY": 4, "symbolType": "M0,-1L0,1M-0.45,-1L0.45,-1M-0.45,1L0.45,1M-0.3,-0.3L0.3,0.3M-0.3,0.3L0.3,-0.3", "symbolSize": 150, "symbolStrokeWidth": 1.6, "symbolFillColor": "transparent"}}
      },
      "layer": [
        {"mark": {"type": "rule", "strokeWidth": 1.6}, "encoding": {
          "x": {"field": "f", "type": "quantitative", "scale": {"domain": [0, 0.1], "nice": false}, "axis": {"title": "Frequency", "orient": "bottom", "values": [0, 0.01, 0.02, 0.03, 0.04, 0.05, 0.06, 0.07, 0.08, 0.09, 0.1], "format": "~g", "labelAngle": -30, "labelAlign": "right", "labelBaseline": "top", "labelPadding": 4, "titlePadding": 11, "labelOverlap": false}},
          "y": {"field": "lo", "type": "quantitative", "scale": {"domain": [0, 1800], "nice": false}, "axis": {"title": "ST-PC Variance", "orient": "left", "values": [0, 200, 400, 600, 800, 1000, 1200, 1400, 1600, 1800], "format": "d", "labelPadding": 6, "titlePadding": 10, "labelOverlap": false}},
          "y2": {"field": "hi"}}},
        {"mark": {"type": "tick", "orient": "horizontal", "size": 7, "thickness": 1.6}, "encoding": {
          "x": {"field": "f", "type": "quantitative", "scale": {"domain": [0, 0.1], "nice": false}, "axis": null},
          "y": {"field": "lo", "type": "quantitative", "scale": {"domain": [0, 1800], "nice": false}, "axis": {"title": "ST-PC Variance", "orient": "left", "values": [0, 200, 400, 600, 800, 1000, 1200, 1400, 1600, 1800], "format": "d", "labelPadding": 6, "titlePadding": 10, "labelOverlap": false}}}},
        {"mark": {"type": "tick", "orient": "horizontal", "size": 7, "thickness": 1.6}, "encoding": {
          "x": {"field": "f", "type": "quantitative", "scale": {"domain": [0, 0.1], "nice": false}, "axis": null},
          "y": {"field": "hi", "type": "quantitative", "scale": {"domain": [0, 1800], "nice": false}, "axis": {"title": "ST-PC Variance", "orient": "left", "values": [0, 200, 400, 600, 800, 1000, 1200, 1400, 1600, 1800], "format": "d", "labelPadding": 6, "titlePadding": 10, "labelOverlap": false}}}},
        {"mark": {"type": "point", "shape": "M-1,-1L1,1M-1,1L1,-1", "filled": false, "size": 26, "strokeWidth": 1.3}, "encoding": {
          "x": {"field": "f", "type": "quantitative", "scale": {"domain": [0, 0.1], "nice": false}, "axis": {"orient": "top", "labels": false, "grid": false, "ticks": false, "domain": false, "title": ["ST-PC Spectra Ranked by Variance w/ Error Bars", "CanESM2 Models"], "titleFontSize": 18, "titleFontWeight": "bold", "titleColor": "#000000", "titlePadding": 6, "titleLineHeight": 23}},
          "y": {"field": "v", "type": "quantitative", "scale": {"domain": [0, 1800], "nice": false}, "axis": {"title": "ST-PC Variance", "orient": "left", "values": [0, 200, 400, 600, 800, 1000, 1200, 1400, 1600, 1800], "format": "d", "labelPadding": 6, "titlePadding": 10, "labelOverlap": false}}}}
      ]
    },
    {
      "width": 445, "height": 321,
      "data": {"name": "c"},
      "title": {"text": "(c)", "dx": -77},
      "resolve": {"axis": {"x": "independent"}},
      "encoding": {
        "color": {"field": "r", "type": "nominal",
          "scale": {"domain": ["Run-1", "Run-2", "Run-3", "Run-4", "Run-5", "Run-6"], "range": ["#0072BD", "#D95319", "#EDB120", "#7E2F8E", "#77AC30", "#4DBEEE"]},
          "legend": {"legendX": 349, "legendY": 26, "symbolType": "M0,-1L0,1M-0.45,-1L0.45,-1M-0.45,1L0.45,1M-0.3,-0.3L0.3,0.3M-0.3,0.3L0.3,-0.3", "symbolSize": 150, "symbolStrokeWidth": 1.6, "symbolFillColor": "transparent"}}
      },
      "layer": [
        {"mark": {"type": "rule", "strokeWidth": 1.6}, "encoding": {
          "x": {"field": "f", "type": "quantitative", "scale": {"domain": [0, 0.1], "nice": false}, "axis": {"title": "Frequency", "orient": "bottom", "values": [0, 0.01, 0.02, 0.03, 0.04, 0.05, 0.06, 0.07, 0.08, 0.09, 0.1], "format": "~g", "labelAngle": -30, "labelAlign": "right", "labelBaseline": "top", "labelPadding": 4, "titlePadding": 11, "labelOverlap": false}},
          "y": {"field": "lo", "type": "quantitative", "scale": {"domain": [0, 2000], "nice": false}, "axis": {"title": "ST-PC Variance", "orient": "left", "values": [0, 500, 1000, 1500, 2000], "format": "d", "labelPadding": 6, "titlePadding": 10, "labelOverlap": false}},
          "y2": {"field": "hi"}}},
        {"mark": {"type": "tick", "orient": "horizontal", "size": 7, "thickness": 1.6}, "encoding": {
          "x": {"field": "f", "type": "quantitative", "scale": {"domain": [0, 0.1], "nice": false}, "axis": null},
          "y": {"field": "lo", "type": "quantitative", "scale": {"domain": [0, 2000], "nice": false}, "axis": {"title": "ST-PC Variance", "orient": "left", "values": [0, 500, 1000, 1500, 2000], "format": "d", "labelPadding": 6, "titlePadding": 10, "labelOverlap": false}}}},
        {"mark": {"type": "tick", "orient": "horizontal", "size": 7, "thickness": 1.6}, "encoding": {
          "x": {"field": "f", "type": "quantitative", "scale": {"domain": [0, 0.1], "nice": false}, "axis": null},
          "y": {"field": "hi", "type": "quantitative", "scale": {"domain": [0, 2000], "nice": false}, "axis": {"title": "ST-PC Variance", "orient": "left", "values": [0, 500, 1000, 1500, 2000], "format": "d", "labelPadding": 6, "titlePadding": 10, "labelOverlap": false}}}},
        {"mark": {"type": "point", "shape": "M-1,-1L1,1M-1,1L1,-1", "filled": false, "size": 26, "strokeWidth": 1.3}, "encoding": {
          "x": {"field": "f", "type": "quantitative", "scale": {"domain": [0, 0.1], "nice": false}, "axis": {"orient": "top", "labels": false, "grid": false, "ticks": false, "domain": false, "title": ["ST-PC Spectra Ranked by Variance w/ Error Bars", "CCSM4 Models"], "titleFontSize": 18, "titleFontWeight": "bold", "titleColor": "#000000", "titlePadding": 6, "titleLineHeight": 23}},
          "y": {"field": "v", "type": "quantitative", "scale": {"domain": [0, 2000], "nice": false}, "axis": {"title": "ST-PC Variance", "orient": "left", "values": [0, 500, 1000, 1500, 2000], "format": "d", "labelPadding": 6, "titlePadding": 10, "labelOverlap": false}}}}
      ]
    },
    {
      "width": 445, "height": 321,
      "data": {"name": "d"},
      "title": {"text": "(d)", "dx": -76},
      "resolve": {"axis": {"x": "independent"}},
      "encoding": {
        "color": {"field": "r", "type": "nominal",
          "scale": {"domain": ["Run-1", "Run-2", "Run-3", "Run-4", "Run-5", "Run-6", "Run-7", "Run-8", "Run-9", "Run-10"], "range": ["#0072BD", "#D95319", "#EDB120", "#7E2F8E", "#77AC30", "#4DBEEE", "#A2142F", "#BDBD00", "#404040", "#17BEBE"]},
          "legend": {"legendX": 345, "legendY": 67, "symbolType": "M0,-1L0,1M-0.45,-1L0.45,-1M-0.45,1L0.45,1M-0.3,-0.3L0.3,0.3M-0.3,0.3L0.3,-0.3", "symbolSize": 150, "symbolStrokeWidth": 1.6, "symbolFillColor": "transparent"}}
      },
      "layer": [
        {"mark": {"type": "rule", "strokeWidth": 1.6}, "encoding": {
          "x": {"field": "f", "type": "quantitative", "scale": {"domain": [0, 0.1], "nice": false}, "axis": {"title": "Frequency", "orient": "bottom", "values": [0, 0.01, 0.02, 0.03, 0.04, 0.05, 0.06, 0.07, 0.08, 0.09, 0.1], "format": "~g", "labelAngle": -30, "labelAlign": "right", "labelBaseline": "top", "labelPadding": 4, "titlePadding": 11, "labelOverlap": false}},
          "y": {"field": "lo", "type": "quantitative", "scale": {"domain": [0, 6000], "nice": false}, "axis": {"title": "ST-PC Variance", "orient": "left", "values": [0, 1000, 2000, 3000, 4000, 5000, 6000], "format": "d", "labelPadding": 6, "titlePadding": 10, "labelOverlap": false}},
          "y2": {"field": "hi"}}},
        {"mark": {"type": "tick", "orient": "horizontal", "size": 7, "thickness": 1.6}, "encoding": {
          "x": {"field": "f", "type": "quantitative", "scale": {"domain": [0, 0.1], "nice": false}, "axis": null},
          "y": {"field": "lo", "type": "quantitative", "scale": {"domain": [0, 6000], "nice": false}, "axis": {"title": "ST-PC Variance", "orient": "left", "values": [0, 1000, 2000, 3000, 4000, 5000, 6000], "format": "d", "labelPadding": 6, "titlePadding": 10, "labelOverlap": false}}}},
        {"mark": {"type": "tick", "orient": "horizontal", "size": 7, "thickness": 1.6}, "encoding": {
          "x": {"field": "f", "type": "quantitative", "scale": {"domain": [0, 0.1], "nice": false}, "axis": null},
          "y": {"field": "hi", "type": "quantitative", "scale": {"domain": [0, 6000], "nice": false}, "axis": {"title": "ST-PC Variance", "orient": "left", "values": [0, 1000, 2000, 3000, 4000, 5000, 6000], "format": "d", "labelPadding": 6, "titlePadding": 10, "labelOverlap": false}}}},
        {"mark": {"type": "point", "shape": "M-1,-1L1,1M-1,1L1,-1", "filled": false, "size": 26, "strokeWidth": 1.3}, "encoding": {
          "x": {"field": "f", "type": "quantitative", "scale": {"domain": [0, 0.1], "nice": false}, "axis": {"orient": "top", "labels": false, "grid": false, "ticks": false, "domain": false, "title": ["ST-PC Spectra Ranked by Variance w/ Error Bars", "CNRM_CM5 Models"], "titleFontSize": 18, "titleFontWeight": "bold", "titleColor": "#000000", "titlePadding": 6, "titleLineHeight": 23}},
          "y": {"field": "v", "type": "quantitative", "scale": {"domain": [0, 6000], "nice": false}, "axis": {"title": "ST-PC Variance", "orient": "left", "values": [0, 1000, 2000, 3000, 4000, 5000, 6000], "format": "d", "labelPadding": 6, "titlePadding": 10, "labelOverlap": false}}}}
      ]
    },
    {
      "width": 445, "height": 321,
      "data": {"name": "e"},
      "title": {"text": "(e)", "dx": -77},
      "resolve": {"axis": {"x": "independent"}},
      "encoding": {
        "color": {"field": "r", "type": "nominal",
          "scale": {"domain": ["Run-1", "Run-2", "Run-3", "Run-4", "Run-5", "Run-6", "Run-7", "Run-8", "Run-9", "Run-10"], "range": ["#0072BD", "#D95319", "#EDB120", "#7E2F8E", "#77AC30", "#4DBEEE", "#A2142F", "#BDBD00", "#404040", "#17BEBE"]},
          "legend": {"legendX": 343, "legendY": 67, "symbolType": "M0,-1L0,1M-0.45,-1L0.45,-1M-0.45,1L0.45,1M-0.3,-0.3L0.3,0.3M-0.3,0.3L0.3,-0.3", "symbolSize": 150, "symbolStrokeWidth": 1.6, "symbolFillColor": "transparent"}}
      },
      "layer": [
        {"mark": {"type": "rule", "strokeWidth": 1.6}, "encoding": {
          "x": {"field": "f", "type": "quantitative", "scale": {"domain": [0, 0.1], "nice": false}, "axis": {"title": "Frequency", "orient": "bottom", "values": [0, 0.01, 0.02, 0.03, 0.04, 0.05, 0.06, 0.07, 0.08, 0.09, 0.1], "format": "~g", "labelAngle": -30, "labelAlign": "right", "labelBaseline": "top", "labelPadding": 4, "titlePadding": 11, "labelOverlap": false}},
          "y": {"field": "lo", "type": "quantitative", "scale": {"domain": [0, 14000], "nice": false}, "axis": {"title": "ST-PC Variance", "orient": "left", "values": [0, 2000, 4000, 6000, 8000, 10000, 12000, 14000], "format": "d", "labelPadding": 6, "titlePadding": 10, "labelOverlap": false}},
          "y2": {"field": "hi"}}},
        {"mark": {"type": "tick", "orient": "horizontal", "size": 7, "thickness": 1.6}, "encoding": {
          "x": {"field": "f", "type": "quantitative", "scale": {"domain": [0, 0.1], "nice": false}, "axis": null},
          "y": {"field": "lo", "type": "quantitative", "scale": {"domain": [0, 14000], "nice": false}, "axis": {"title": "ST-PC Variance", "orient": "left", "values": [0, 2000, 4000, 6000, 8000, 10000, 12000, 14000], "format": "d", "labelPadding": 6, "titlePadding": 10, "labelOverlap": false}}}},
        {"mark": {"type": "tick", "orient": "horizontal", "size": 7, "thickness": 1.6}, "encoding": {
          "x": {"field": "f", "type": "quantitative", "scale": {"domain": [0, 0.1], "nice": false}, "axis": null},
          "y": {"field": "hi", "type": "quantitative", "scale": {"domain": [0, 14000], "nice": false}, "axis": {"title": "ST-PC Variance", "orient": "left", "values": [0, 2000, 4000, 6000, 8000, 10000, 12000, 14000], "format": "d", "labelPadding": 6, "titlePadding": 10, "labelOverlap": false}}}},
        {"mark": {"type": "point", "shape": "M-1,-1L1,1M-1,1L1,-1", "filled": false, "size": 26, "strokeWidth": 1.3}, "encoding": {
          "x": {"field": "f", "type": "quantitative", "scale": {"domain": [0, 0.1], "nice": false}, "axis": {"orient": "top", "labels": false, "grid": false, "ticks": false, "domain": false, "title": ["ST-PC Spectra Ranked by Variance w/ Error Bars", "CSIRO_MK3_6_0 Models"], "titleFontSize": 18, "titleFontWeight": "bold", "titleColor": "#000000", "titlePadding": 6, "titleLineHeight": 23}},
          "y": {"field": "v", "type": "quantitative", "scale": {"domain": [0, 14000], "nice": false}, "axis": {"title": "ST-PC Variance", "orient": "left", "values": [0, 2000, 4000, 6000, 8000, 10000, 12000, 14000], "format": "d", "labelPadding": 6, "titlePadding": 10, "labelOverlap": false}}}}
      ]
    },
    {
      "width": 445, "height": 321,
      "data": {"name": "f"},
      "title": {"text": "(f)", "dx": -76},
      "resolve": {"axis": {"x": "independent"}},
      "encoding": {
        "color": {"field": "r", "type": "nominal",
          "scale": {"domain": ["Run-1", "Run-2", "Run-3", "Run-4", "Run-5", "Run-6", "Run-7", "Run-8", "Run-9", "Run-10"], "range": ["#0072BD", "#D95319", "#EDB120", "#7E2F8E", "#77AC30", "#4DBEEE", "#A2142F", "#BDBD00", "#404040", "#17BEBE"]},
          "legend": {"legendX": 345, "legendY": 67, "symbolType": "M0,-1L0,1M-0.45,-1L0.45,-1M-0.45,1L0.45,1M-0.3,-0.3L0.3,0.3M-0.3,0.3L0.3,-0.3", "symbolSize": 150, "symbolStrokeWidth": 1.6, "symbolFillColor": "transparent"}}
      },
      "layer": [
        {"mark": {"type": "rule", "strokeWidth": 1.6}, "encoding": {
          "x": {"field": "f", "type": "quantitative", "scale": {"domain": [0, 0.1], "nice": false}, "axis": {"title": "Frequency", "orient": "bottom", "values": [0, 0.01, 0.02, 0.03, 0.04, 0.05, 0.06, 0.07, 0.08, 0.09, 0.1], "format": "~g", "labelAngle": -30, "labelAlign": "right", "labelBaseline": "top", "labelPadding": 4, "titlePadding": 11, "labelOverlap": false}},
          "y": {"field": "lo", "type": "quantitative", "scale": {"domain": [0, 5000], "nice": false}, "axis": {"title": "ST-PC Variance", "orient": "left", "values": [0, 1000, 2000, 3000, 4000, 5000], "format": "d", "labelPadding": 6, "titlePadding": 10, "labelOverlap": false}},
          "y2": {"field": "hi"}}},
        {"mark": {"type": "tick", "orient": "horizontal", "size": 7, "thickness": 1.6}, "encoding": {
          "x": {"field": "f", "type": "quantitative", "scale": {"domain": [0, 0.1], "nice": false}, "axis": null},
          "y": {"field": "lo", "type": "quantitative", "scale": {"domain": [0, 5000], "nice": false}, "axis": {"title": "ST-PC Variance", "orient": "left", "values": [0, 1000, 2000, 3000, 4000, 5000], "format": "d", "labelPadding": 6, "titlePadding": 10, "labelOverlap": false}}}},
        {"mark": {"type": "tick", "orient": "horizontal", "size": 7, "thickness": 1.6}, "encoding": {
          "x": {"field": "f", "type": "quantitative", "scale": {"domain": [0, 0.1], "nice": false}, "axis": null},
          "y": {"field": "hi", "type": "quantitative", "scale": {"domain": [0, 5000], "nice": false}, "axis": {"title": "ST-PC Variance", "orient": "left", "values": [0, 1000, 2000, 3000, 4000, 5000], "format": "d", "labelPadding": 6, "titlePadding": 10, "labelOverlap": false}}}},
        {"mark": {"type": "point", "shape": "M-1,-1L1,1M-1,1L1,-1", "filled": false, "size": 26, "strokeWidth": 1.3}, "encoding": {
          "x": {"field": "f", "type": "quantitative", "scale": {"domain": [0, 0.1], "nice": false}, "axis": {"orient": "top", "labels": false, "grid": false, "ticks": false, "domain": false, "title": ["ST-PC Spectra Ranked by Variance w/ Error Bars", "GFDL_CM2p1 Models"], "titleFontSize": 18, "titleFontWeight": "bold", "titleColor": "#000000", "titlePadding": 6, "titleLineHeight": 23}},
          "y": {"field": "v", "type": "quantitative", "scale": {"domain": [0, 5000], "nice": false}, "axis": {"title": "ST-PC Variance", "orient": "left", "values": [0, 1000, 2000, 3000, 4000, 5000], "format": "d", "labelPadding": 6, "titlePadding": 10, "labelOverlap": false}}}}
      ]
    }
  ]
}
